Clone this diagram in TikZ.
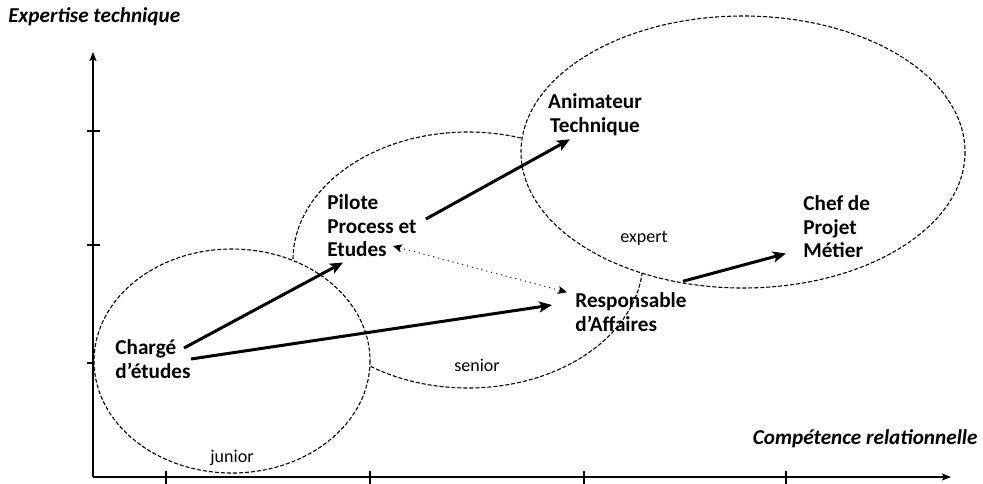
\documentclass[tikz,border=0pt]{standalone}
\usepackage{fontspec}
\setmainfont{Carlito}
\usepackage{tikz}
\usetikzlibrary{arrows.meta}
\usetikzlibrary{calc}

\begin{document}
\begin{tikzpicture}[x=0.5pt,y=-0.5pt,
    axe/.style={line width=0.7pt},
    zone/.style={draw=black,fill=white,line width=0.55pt,dash pattern=on 2pt off 1pt},
    poste/.style={font=\fontsize{10.6}{11.8}\selectfont\bfseries,align=left,inner sep=0pt},
    niveau/.style={font=\fontsize{9}{11}\selectfont,inner sep=0pt},
    titre/.style={font=\fontsize{10.6}{12}\selectfont\bfseries\itshape,inner sep=0pt},
    evol/.style={line width=1.5pt,-{Stealth[length=6.5pt,width=5.5pt,inset=1.5pt]}},
    lien/.style={line width=0.5pt,dotted,{Stealth[length=4.5pt,width=4pt,inset=1pt]}-{Stealth[length=4.5pt,width=4pt,inset=1pt]}}]
    \useasboundingbox (0,0) rectangle (983,483);

    % axes
    \coordinate (O) at (93,477);
    \coordinate (ytop) at (93,52);
    \coordinate (xend) at (951,477);
    \draw[axe,-{Stealth[length=4.5pt,width=3.5pt,inset=0.8pt]}] (O) -- (ytop);
    \draw[axe,-{Stealth[length=4.5pt,width=3.5pt,inset=0.8pt]}] (O) -- (xend);
    \foreach \t in {131,245,363} \draw[axe] (87,\t) -- (100,\t);
    \foreach \t in {166,370,584,786} \draw[axe] (\t,471) -- (\t,484);
    \node[titre,anchor=west] (expertise) at (8,17) {Expertise technique};
    \node[titre,anchor=east] (competence) at (978,439) {Compétence relationnelle};

    % zones
    \draw[zone] (468,260) ellipse [x radius=175, y radius=128];
    \draw[zone] (232,361) ellipse [x radius=138, y radius=112];
    \draw[zone] (743,152) ellipse [x radius=222, y radius=136];
    \node[niveau] (junior) at (232,458) {junior};
    \node[niveau] (senior) at (477,365) {senior};
    \node[niveau] (expert) at (644,238) {expert};

    % postes
    \node[poste,anchor=west] (charge) at (115,359) {Chargé\\d’études};
    \node[poste,anchor=west] (pilote) at (327,226) {Pilote\\Process et\\Etudes};
    \node[poste,align=center] (anim) at (595,115) {Animateur\\Technique};
    \node[poste,anchor=west] (chef) at (803,227) {Chef de\\Projet\\Métier};
    \node[poste,anchor=west] (resp) at (575,312) {Responsable\\d’Affaires};

    \draw[evol] ([xshift=-3.5pt,yshift=5.5pt]charge.east) -- ([xshift=8pt,yshift=-2.5pt]pilote.south west);
    \draw[evol] (charge.east) -- ([xshift=-11.5pt,yshift=3.5pt]resp.west);
    \draw[evol] ([xshift=4.5pt,yshift=3.5pt]pilote.east) -- ([xshift=-12.5pt,yshift=-1.5pt]anim.south);
    \draw[evol] ([xshift=-2pt,yshift=5.5pt]resp.north east) -- ([xshift=-8.5pt,yshift=2.5pt]chef.south west);
    \draw[lien] ([xshift=-12pt,yshift=-10pt]pilote.east) -- ([xshift=-4pt]resp.north west);
\end{tikzpicture}
\end{document}
